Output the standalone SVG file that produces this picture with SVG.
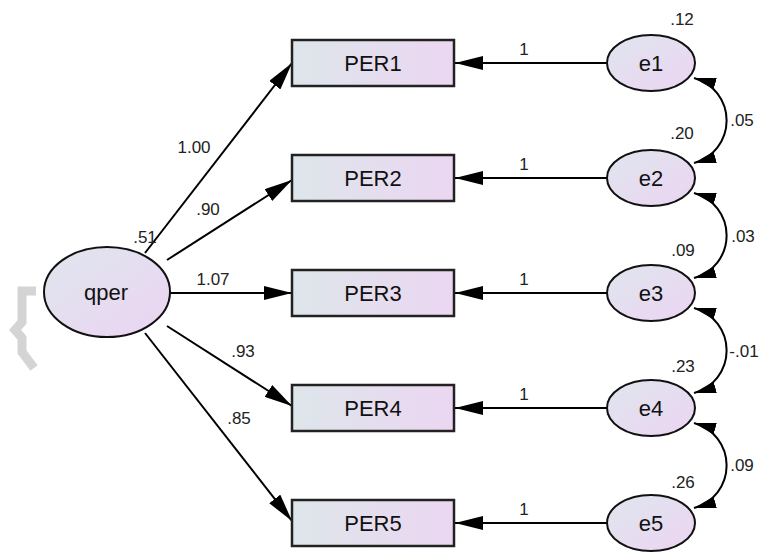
<svg xmlns="http://www.w3.org/2000/svg" width="761" height="552" viewBox="0 0 761 552">
<defs>
<linearGradient id="g" x1="0" y1="0" x2="1" y2="1">
<stop offset="0" stop-color="#dfe6ee"/>
<stop offset="1" stop-color="#ecd4f2"/>
</linearGradient>
<linearGradient id="gb" x1="0" y1="0" x2="1" y2="0">
<stop offset="0" stop-color="#dde6ea"/>
<stop offset="1" stop-color="#ecd6f2"/>
</linearGradient>
<marker id="ah" viewBox="0 0 28 14" refX="28" refY="7" markerWidth="28" markerHeight="14" markerUnits="userSpaceOnUse" orient="auto-start-reverse">
<path d="M0,0 L28,7 L0,14 z" fill="#000"/>
</marker>
<marker id="ac" viewBox="0 0 22 12" refX="22" refY="6" markerWidth="22" markerHeight="12" markerUnits="userSpaceOnUse" orient="auto-start-reverse">
<path d="M0,0 L22,6 L0,12 z" fill="#000"/>
</marker>
</defs>
<style>
.box{fill:url(#gb);stroke:#222;stroke-width:2.5}
.ell{fill:url(#g);stroke:#111;stroke-width:2}
.lbl{font-family:"Liberation Sans",Arial,sans-serif;font-size:22px;fill:#111;text-anchor:middle}
.num{font-family:"Liberation Sans",Arial,sans-serif;font-size:17px;fill:#222;text-anchor:middle}
.c{stroke:#000;stroke-width:2;fill:none}
</style>
<rect width="761" height="552" fill="#fff"/>
<polyline points="36,291 22,291 22,322 15,330 22,338 22,352 34,368" fill="none" stroke="#d4d4d4" stroke-width="9"/>
<g id="connectors">
<line class="c" x1="145" y1="253" x2="292" y2="63" marker-end="url(#ah)"/>
<line class="c" x1="167" y1="260" x2="292" y2="180" marker-end="url(#ah)"/>
<line class="c" x1="170" y1="293" x2="292" y2="293" marker-end="url(#ah)"/>
<line class="c" x1="167" y1="326" x2="292" y2="406" marker-end="url(#ah)"/>
<line class="c" x1="145" y1="333" x2="292" y2="521" marker-end="url(#ah)"/>
<line class="c" x1="607" y1="63" x2="455" y2="63" marker-end="url(#ah)"/>
<line class="c" x1="607" y1="178" x2="455" y2="178" marker-end="url(#ah)"/>
<line class="c" x1="607" y1="293" x2="455" y2="293" marker-end="url(#ah)"/>
<line class="c" x1="607" y1="408" x2="455" y2="408" marker-end="url(#ah)"/>
<line class="c" x1="607" y1="523" x2="455" y2="523" marker-end="url(#ah)"/>
<path class="c" d="M694,78 A44,44 0 0 1 694,163" marker-start="url(#ac)" marker-end="url(#ac)"/>
<path class="c" d="M694,193 A44,44 0 0 1 694,278" marker-start="url(#ac)" marker-end="url(#ac)"/>
<path class="c" d="M694,308 A44,44 0 0 1 694,393" marker-start="url(#ac)" marker-end="url(#ac)"/>
<path class="c" d="M694,423 A44,44 0 0 1 694,508" marker-start="url(#ac)" marker-end="url(#ac)"/>
<text class="num" x="194" y="153">1.00</text>
<text class="num" x="208" y="215">.90</text>
<text class="num" x="145" y="243">.51</text>
<text class="num" x="213" y="285">1.07</text>
<text class="num" x="243" y="357">.93</text>
<text class="num" x="239" y="424">.85</text>
<text class="num" x="524" y="55">1</text>
<text class="num" x="524" y="170">1</text>
<text class="num" x="524" y="285">1</text>
<text class="num" x="524" y="400">1</text>
<text class="num" x="524" y="515">1</text>
<text class="num" x="742" y="126">.05</text>
<text class="num" x="743" y="242">.03</text>
<text class="num" x="744" y="357">-.01</text>
<text class="num" x="742" y="471">.09</text>
</g>
<g id="qper"><ellipse class="ell" cx="107" cy="292" rx="63" ry="45"/><text class="lbl" x="106" y="300">qper</text></g>
<g id="PER1"><rect class="box" x="292" y="40" width="162" height="46"/><text class="lbl" x="373" y="71">PER1</text></g>
<g id="PER2"><rect class="box" x="292" y="155" width="162" height="46"/><text class="lbl" x="373" y="186">PER2</text></g>
<g id="PER3"><rect class="box" x="292" y="270" width="162" height="46"/><text class="lbl" x="373" y="301">PER3</text></g>
<g id="PER4"><rect class="box" x="292" y="385" width="162" height="46"/><text class="lbl" x="373" y="416">PER4</text></g>
<g id="PER5"><rect class="box" x="292" y="500" width="162" height="46"/><text class="lbl" x="373" y="531">PER5</text></g>
<g id="e1"><ellipse class="ell" cx="651" cy="63" rx="44" ry="28"/><text class="lbl" x="651" y="71">e1</text><text class="num" x="682" y="25">.12</text></g>
<g id="e2"><ellipse class="ell" cx="651" cy="178" rx="44" ry="28"/><text class="lbl" x="651" y="186">e2</text><text class="num" x="682" y="139">.20</text></g>
<g id="e3"><ellipse class="ell" cx="651" cy="293" rx="44" ry="28"/><text class="lbl" x="651" y="301">e3</text><text class="num" x="683" y="256">.09</text></g>
<g id="e4"><ellipse class="ell" cx="651" cy="408" rx="44" ry="28"/><text class="lbl" x="651" y="416">e4</text><text class="num" x="683" y="372">.23</text></g>
<g id="e5"><ellipse class="ell" cx="651" cy="523" rx="44" ry="28"/><text class="lbl" x="651" y="531">e5</text><text class="num" x="683" y="488">.26</text></g>
</svg>
